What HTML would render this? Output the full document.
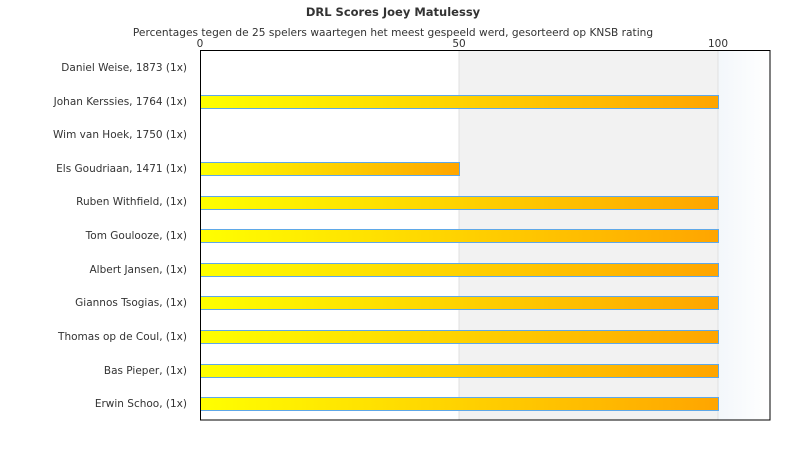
<!DOCTYPE html>
<html><head><style>
body{margin:0;background:#fff;font-family:"Liberation Sans","DejaVu Sans",sans-serif;}
</style></head><body>
<svg width="790" height="450" xmlns="http://www.w3.org/2000/svg" font-family="DejaVu Sans, Liberation Sans, sans-serif">
<defs>
<linearGradient id="g" x1="0" x2="1" y1="0" y2="0"><stop offset="0" stop-color="#ffff00"/><stop offset="1" stop-color="#ffa500"/></linearGradient>
<linearGradient id="b" x1="0" x2="1" y1="0" y2="0"><stop offset="0" stop-color="#f3f7fb"/><stop offset="1" stop-color="#ffffff"/></linearGradient>
</defs>
<text x="393" y="16" text-anchor="middle" font-size="11.5" font-weight="bold" fill="#333">DRL Scores Joey Matulessy</text>
<text x="393" y="36" text-anchor="middle" font-size="10.6" fill="#333">Percentages tegen de 25 spelers waartegen het meest gespeeld werd, gesorteerd op KNSB rating</text>
<text x="200" y="47" text-anchor="middle" font-size="10.5" fill="#333">0</text>
<text x="459" y="47" text-anchor="middle" font-size="10.5" fill="#333">50</text>
<text x="718" y="47" text-anchor="middle" font-size="10.5" fill="#333">100</text>
<rect x="459" y="50" width="259" height="370" fill="#f2f2f2"/>
<rect x="718" y="50" width="52" height="370" fill="url(#b)"/>
<line x1="459" y1="50" x2="459" y2="420" stroke="#e0e0e0"/>
<line x1="718" y1="50" x2="718" y2="420" stroke="#e0e0e0"/>
<g font-size="10.5" fill="#333" text-anchor="end">
<text x="187" y="71">Daniel Weise, 1873 (1x)</text>
<text x="187" y="105">Johan Kerssies, 1764 (1x)</text>
<text x="187" y="138">Wim van Hoek, 1750 (1x)</text>
<text x="187" y="172">Els Goudriaan, 1471 (1x)</text>
<text x="187" y="205">Ruben Withfield,  (1x)</text>
<text x="187" y="239">Tom Goulooze,  (1x)</text>
<text x="187" y="273">Albert Jansen,  (1x)</text>
<text x="187" y="306">Giannos Tsogias,  (1x)</text>
<text x="187" y="340">Thomas op de Coul,  (1x)</text>
<text x="187" y="374">Bas Pieper,  (1x)</text>
<text x="187" y="407">Erwin Schoo,  (1x)</text>
</g>
<g fill="url(#g)" stroke="#5fa8e8" stroke-width="1">
<rect x="200.5" y="95.5" width="518" height="13"/>
<rect x="200.5" y="162.5" width="259" height="13"/>
<rect x="200.5" y="196.5" width="518" height="13"/>
<rect x="200.5" y="229.5" width="518" height="13"/>
<rect x="200.5" y="263.5" width="518" height="13"/>
<rect x="200.5" y="296.5" width="518" height="13"/>
<rect x="200.5" y="330.5" width="518" height="13"/>
<rect x="200.5" y="364.5" width="518" height="13"/>
<rect x="200.5" y="397.5" width="518" height="13"/>
</g>
<rect x="200.5" y="50.5" width="569.5" height="369.5" fill="none" stroke="#000"/>
</svg>
</body></html>
